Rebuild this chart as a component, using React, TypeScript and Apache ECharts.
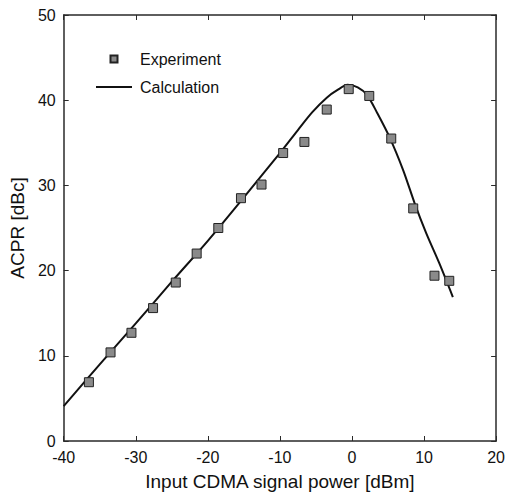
import React, { useEffect, useRef } from "react";
import * as echarts from "echarts";

const expX = [-36.5, -33.5, -30.6, -27.6, -24.45, -21.55, -18.55, -15.4, -12.55, -9.55, -6.6, -3.5, -0.45, 2.4, 5.45, 8.5, 11.45, 13.5];
const expY = [6.9, 10.4, 12.7, 15.6, 18.6, 22.0, 25.0, 28.5, 30.1, 33.8, 35.1, 38.9, 41.3, 40.5, 35.5, 27.3, 19.4, 18.8];

const calcX = [-40, -35, -30, -25, -20, -15, -10, -7.5, -5.5, -3.5, -2, -0.6, 0.8, 2.1, 3.5, 5.3, 7.1, 8.7, 10.3, 12.1, 14];
const calcY = [4.1, 9.0, 13.8, 18.7, 23.5, 28.6, 33.8, 36.5, 38.6, 40.3, 41.2, 41.8, 41.5, 40.6, 38.5, 35.5, 31.8, 27.9, 24.4, 20.9, 16.9];

const xTicks = { min: -40, max: 20, interval: 10 };
const yTicks = { min: 0, max: 50, interval: 10 };

const FONT = "Liberation Sans, Arial, sans-serif";
const AX = "#2a2a2a";

export default function App() {
  const ref = useRef<HTMLDivElement>(null);
  useEffect(() => {
    if (!ref.current) return;
    const chart = echarts.init(ref.current, undefined, { renderer: "svg" });
    const axisCommon = {
      axisLine: { show: true, onZero: false, lineStyle: { color: AX, width: 1.5 } },
      axisTick: { show: true, inside: true, length: 5, lineStyle: { color: AX, width: 1 } },
      splitLine: { show: false },
    };
    chart.setOption({
      animation: false,
      backgroundColor: "#ffffff",
      textStyle: { fontFamily: FONT },
      grid: { left: 61, right: 7, top: 15, bottom: 55, containLabel: false },
      legend: {
        orient: "vertical",
        left: 91,
        top: 45,
        itemWidth: 36,
        itemHeight: 7,
        itemGap: 10,
        symbolKeepAspect: true,
        textStyle: { fontFamily: FONT, fontSize: 16, lineHeight: 18, color: "#111", padding: [0, 0, 0, 3] },
        data: [
          { name: "Experiment", icon: "path://M0,0L10,0L10,10L0,10Z" },
          { name: "Calculation", icon: "path://M0,0L36,0L36,2L0,2Z" },
        ],
      },
      xAxis: [
        {
          type: "value",
          position: "bottom",
          ...xTicks,
          ...axisCommon,
          name: "Input CDMA signal power [dBm]",
          nameLocation: "middle",
          nameGap: 31,
          nameTextStyle: { fontFamily: FONT, fontSize: 19, color: "#111" },
          axisLabel: { fontFamily: FONT, fontSize: 16, color: "#111", margin: 8 },
        },
        {
          type: "value",
          position: "top",
          ...xTicks,
          ...axisCommon,
          axisLabel: { show: false },
        },
      ],
      yAxis: [
        {
          type: "value",
          position: "left",
          ...yTicks,
          ...axisCommon,
          name: "ACPR [dBc]",
          nameLocation: "middle",
          nameGap: 34,
          nameTextStyle: { fontFamily: FONT, fontSize: 19, color: "#111" },
          axisLabel: { fontFamily: FONT, fontSize: 16, color: "#111", margin: 8 },
        },
        {
          type: "value",
          position: "right",
          ...yTicks,
          ...axisCommon,
          axisLabel: { show: false },
        },
      ],
      series: [
        {
          name: "Calculation",
          type: "line",
          data: calcX.map((x, i) => [x, calcY[i]]),
          smooth: 0.3,
          symbol: "none",
          lineStyle: { color: "#111", width: 2 },
          itemStyle: { color: "#111" },
          z: 2,
        },
        {
          name: "Experiment",
          type: "scatter",
          data: expX.map((x, i) => [x, expY[i]]),
          symbol: "rect",
          symbolSize: 9,
          itemStyle: { color: "#8a8a8a", borderColor: "#222", borderWidth: 1, opacity: 1 },
          z: 3,
        },
      ],
    });
    return () => chart.dispose();
  }, []);
  return <div ref={ref} style={{ width: 508, height: 496, position: "absolute", left: 0, top: 0 }} />;
}
